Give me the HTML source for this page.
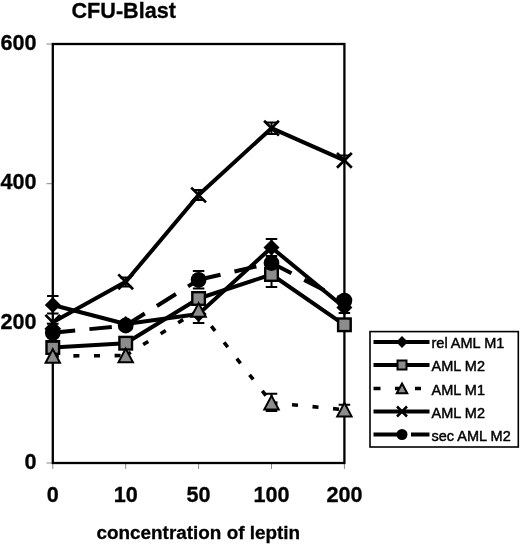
<!DOCTYPE html>
<html><head><meta charset="utf-8"><style>
html,body{margin:0;padding:0;background:#fff;width:520px;height:545px;overflow:hidden}
svg{display:block;will-change:transform}
.b{font-family:"Liberation Sans",sans-serif;font-weight:bold;fill:#000;stroke:#000;stroke-width:0.3px}
.r{font-family:"Liberation Sans",sans-serif;fill:#000;stroke:#000;stroke-width:0.45px}
</style></head><body>
<svg width="520" height="545" viewBox="0 0 520 545">
<rect width="520" height="545" fill="#fff"/>
<text x="123.7" y="18" text-anchor="middle" class="b" font-size="21.6">CFU-Blast</text>
<text x="36.5" y="49.6" text-anchor="end" class="b" font-size="21.6">600</text>
<path d="M46.5 44.0H52" stroke="#888" stroke-width="1"/>
<text x="36.5" y="189.3" text-anchor="end" class="b" font-size="21.6">400</text>
<path d="M46.5 183.7H52" stroke="#888" stroke-width="1"/>
<text x="36.5" y="328.9" text-anchor="end" class="b" font-size="21.6">200</text>
<path d="M46.5 323.3H52" stroke="#888" stroke-width="1"/>
<text x="36.5" y="468.6" text-anchor="end" class="b" font-size="21.6">0</text>
<path d="M46.5 463.0H52" stroke="#888" stroke-width="1"/>
<text x="52.8" y="502.2" text-anchor="middle" class="b" font-size="21.6">0</text>
<path d="M52.8 463.0V469" stroke="#888" stroke-width="1"/>
<text x="125.7" y="502.2" text-anchor="middle" class="b" font-size="21.6">10</text>
<path d="M125.7 463.0V469" stroke="#888" stroke-width="1"/>
<text x="198.6" y="502.2" text-anchor="middle" class="b" font-size="21.6">50</text>
<path d="M198.6 463.0V469" stroke="#888" stroke-width="1"/>
<text x="271.5" y="502.2" text-anchor="middle" class="b" font-size="21.6">100</text>
<path d="M271.5 463.0V469" stroke="#888" stroke-width="1"/>
<text x="344.4" y="502.2" text-anchor="middle" class="b" font-size="21.6">200</text>
<path d="M344.4 463.0V469" stroke="#888" stroke-width="1"/>
<text x="198.3" y="539.2" text-anchor="middle" class="b" font-size="18.9">concentration of leptin</text>
<rect x="52.8" y="44" width="291.60" height="419.0" fill="none" stroke="#000" stroke-width="2.3"/>
<path d="M52.8 296V313.5M47.05 296H58.55M47.05 313.5H58.55" stroke="#000" stroke-width="2" fill="none"/>
<path d="M271.5 239V256M265.75 239H277.25M265.75 256H277.25" stroke="#000" stroke-width="2" fill="none"/>
<path d="M198.6 305V323M192.85 305H204.35M192.85 323H204.35" stroke="#000" stroke-width="2" fill="none"/>
<path d="M344.4 302V313M338.65 302H350.15M338.65 313H350.15" stroke="#000" stroke-width="2" fill="none"/>
<path d="M52.8 305L125.7 324M125.7 324L198.6 314M198.6 314L271.5 247.5M271.5 247.5L344.4 307.5" fill="none" stroke="#000" stroke-width="4" stroke-linecap="round"/>
<path d="M52.8 297L60.8 305L52.8 313L44.8 305Z" fill="#000"/>
<path d="M125.7 316L133.7 324L125.7 332L117.7 324Z" fill="#000"/>
<path d="M198.6 306L206.6 314L198.6 322L190.6 314Z" fill="#000"/>
<path d="M271.5 239.5L279.5 247.5L271.5 255.5L263.5 247.5Z" fill="#000"/>
<path d="M344.4 299.5L352.4 307.5L344.4 315.5L336.4 307.5Z" fill="#000"/>
<path d="M271.5 262V287M265.75 262H277.25M265.75 287H277.25" stroke="#000" stroke-width="2" fill="none"/>
<path d="M52.8 347.5L125.7 343.2M125.7 343.2L198.6 298.5M198.6 298.5L271.5 274.5M271.5 274.5L344.4 324.8" fill="none" stroke="#000" stroke-width="4" stroke-linecap="round"/>
<rect x="46.50" y="341.20" width="12.60" height="12.60" fill="#8c8c8c" stroke="#000" stroke-width="2.4"/>
<rect x="119.40" y="336.90" width="12.60" height="12.60" fill="#8c8c8c" stroke="#000" stroke-width="2.4"/>
<rect x="192.30" y="292.20" width="12.60" height="12.60" fill="#8c8c8c" stroke="#000" stroke-width="2.4"/>
<rect x="265.20" y="268.20" width="12.60" height="12.60" fill="#8c8c8c" stroke="#000" stroke-width="2.4"/>
<rect x="338.10" y="318.50" width="12.60" height="12.60" fill="#8c8c8c" stroke="#000" stroke-width="2.4"/>
<path d="M271.5 393.7V411M265.75 393.7H277.25M265.75 411H277.25" stroke="#000" stroke-width="2" fill="none"/>
<path d="M344.4 404.7V414.7M338.65 404.7H350.15M338.65 414.7H350.15" stroke="#000" stroke-width="2" fill="none"/>
<path d="M52.8 356L125.7 355.5" fill="none" stroke="#000" stroke-width="3.6" stroke-dasharray="6 14.6"/>
<path d="M125.7 355.5L198.6 310" fill="none" stroke="#000" stroke-width="3.6" stroke-dasharray="6 14.6"/>
<path d="M198.6 310L271.5 402.7" fill="none" stroke="#000" stroke-width="3.6" stroke-dasharray="6 14.6"/>
<path d="M271.5 402.7L344.4 409.7" fill="none" stroke="#000" stroke-width="3.6" stroke-dasharray="6 14.6"/>
<path d="M52.8 349.10L60.00 362.70L45.60 362.70Z" fill="#8c8c8c" stroke="#000" stroke-width="2" stroke-linejoin="miter"/>
<path d="M125.7 348.60L132.90 362.20L118.50 362.20Z" fill="#8c8c8c" stroke="#000" stroke-width="2" stroke-linejoin="miter"/>
<path d="M198.6 303.10L205.80 316.70L191.40 316.70Z" fill="#8c8c8c" stroke="#000" stroke-width="2" stroke-linejoin="miter"/>
<path d="M271.5 395.80L278.70 409.40L264.30 409.40Z" fill="#8c8c8c" stroke="#000" stroke-width="2" stroke-linejoin="miter"/>
<path d="M344.4 402.80L351.60 416.40L337.20 416.40Z" fill="#8c8c8c" stroke="#000" stroke-width="2" stroke-linejoin="miter"/>
<path d="M271.5 122.5V134M265.75 122.5H277.25M265.75 134H277.25" stroke="#000" stroke-width="2" fill="none"/>
<path d="M198.6 190V200M192.85 190H204.35M192.85 200H204.35" stroke="#000" stroke-width="2" fill="none"/>
<path d="M125.7 277.5V286.5M119.95 277.5H131.45M119.95 286.5H131.45" stroke="#000" stroke-width="2" fill="none"/>
<path d="M338.65 155.5H350.15" stroke="#000" stroke-width="2" fill="none"/>
<path d="M52.8 322.3L125.7 281.8M125.7 281.8L198.6 195M198.6 195L271.5 128.2M271.5 128.2L344.4 160.4" fill="none" stroke="#000" stroke-width="4" stroke-linecap="round"/>
<path d="M45.4 314.90000000000003L60.199999999999996 329.7M60.199999999999996 314.90000000000003L45.4 329.7" stroke="#000" stroke-width="2.7" fill="none"/>
<path d="M118.3 274.40000000000003L133.1 289.2M133.1 274.40000000000003L118.3 289.2" stroke="#000" stroke-width="2.7" fill="none"/>
<path d="M191.2 187.6L206.0 202.4M206.0 187.6L191.2 202.4" stroke="#000" stroke-width="2.7" fill="none"/>
<path d="M264.1 120.79999999999998L278.9 135.6M278.9 120.79999999999998L264.1 135.6" stroke="#000" stroke-width="2.7" fill="none"/>
<path d="M337.0 153.0L351.79999999999995 167.8M351.79999999999995 153.0L337.0 167.8" stroke="#000" stroke-width="2.7" fill="none"/>
<path d="M198.6 271V288.5M192.85 271H204.35M192.85 288.5H204.35" stroke="#000" stroke-width="2" fill="none"/>
<path d="M52.8 323.8V341.8M47.05 323.8H58.55M47.05 341.8H58.55" stroke="#000" stroke-width="2" fill="none"/>
<path d="M52.8 332.8L125.7 325.5" fill="none" stroke="#000" stroke-width="4" stroke-dasharray="22.5 14.3"/>
<path d="M125.7 325.5L198.6 279.8" fill="none" stroke="#000" stroke-width="4" stroke-dasharray="22.5 14.3"/>
<path d="M198.6 279.8L271.5 263" fill="none" stroke="#000" stroke-width="4" stroke-dasharray="22.5 14.3"/>
<path d="M271.5 263L344.4 300.6" fill="none" stroke="#000" stroke-width="4" stroke-dasharray="22.5 14.3"/>
<circle cx="52.8" cy="332.8" r="7.9" fill="#000"/>
<circle cx="125.7" cy="325.5" r="7.9" fill="#000"/>
<circle cx="198.6" cy="279.8" r="7.9" fill="#000"/>
<circle cx="271.5" cy="263" r="7.9" fill="#000"/>
<circle cx="344.4" cy="300.6" r="7.9" fill="#000"/>
<rect x="370" y="331.6" width="148.3" height="115.4" fill="#fff" stroke="#000" stroke-width="1.6"/>
<path d="M373.5 342H429.5" stroke="#000" stroke-width="4"/><path d="M402 336L408 342L402 348L396 342Z" fill="#000"/>
<path d="M373.5 365H429.5" stroke="#000" stroke-width="4"/><rect x="397.50" y="360.50" width="9.00" height="9.00" fill="#8c8c8c" stroke="#000" stroke-width="2"/>
<path d="M373.5 388.5H380.5M395 388.5H399M415 388.5H421" stroke="#000" stroke-width="3.5"/><path d="M402 383.50L407.25 393.30L396.75 393.30Z" fill="#8c8c8c" stroke="#000" stroke-width="2" stroke-linejoin="miter"/>
<path d="M373.5 411.5H429.5" stroke="#000" stroke-width="4"/><path d="M397 406.5L407 416.5M407 406.5L397 416.5" stroke="#000" stroke-width="2.5" fill="none"/>
<path d="M373.5 434.5H398M411 434.5H429.5" stroke="#000" stroke-width="4"/><circle cx="402" cy="434.5" r="5.5" fill="#000"/>
<text x="431.5" y="348.2" class="r" font-size="14.5">rel AML M1</text>
<text x="431.5" y="371.2" class="r" font-size="14.5">AML M2</text>
<text x="431.5" y="394.7" class="r" font-size="14.5">AML M1</text>
<text x="431.5" y="417.7" class="r" font-size="14.5">AML M2</text>
<text x="431.5" y="440.7" class="r" font-size="14.5">sec AML M2</text>
</svg>
</body></html>
